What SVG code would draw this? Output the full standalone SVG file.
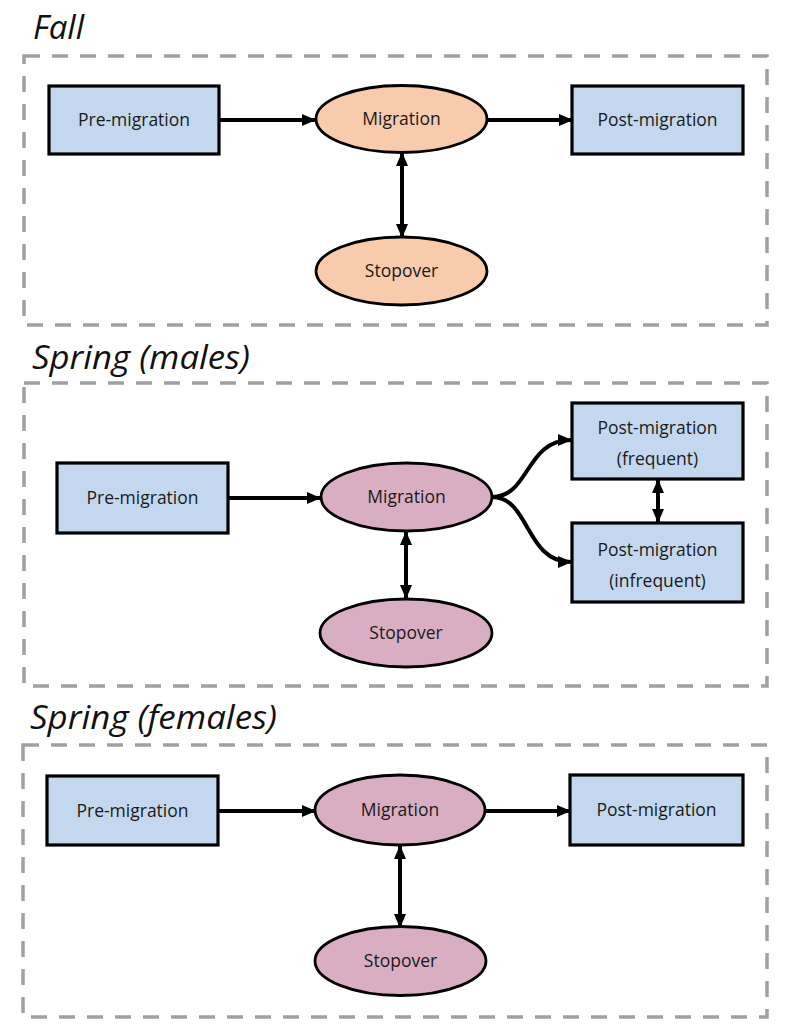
<svg xmlns="http://www.w3.org/2000/svg" width="786" height="1034" viewBox="0 0 786 1034">
<style>
.frame{fill:none;stroke:#A0A0A0;stroke-width:3.5;stroke-dasharray:16 12}
.title{font-family:"Open Sans","Liberation Sans",sans-serif;font-style:italic;font-size:32px;fill:#111}
.box{fill:#C3D8EE;stroke:#000;stroke-width:3.2}
.orange{fill:#F8CBAD;stroke:#000;stroke-width:2.8}
.pink{fill:#D9AEC3;stroke:#000;stroke-width:2.8}
.lbl{font-family:"Open Sans","Liberation Sans",sans-serif;font-size:17.5px;fill:#1a1a1a;text-anchor:middle}
.con{fill:none;stroke:#000;stroke-width:4}
</style>
<defs>
<marker id="ah" markerUnits="userSpaceOnUse" markerWidth="14" markerHeight="14" refX="13" refY="7" orient="auto">
<path d="M0,1 L14,7 L0,13 Z" fill="#000"/>
</marker>
<marker id="as" markerUnits="userSpaceOnUse" markerWidth="14" markerHeight="14" refX="1" refY="7" orient="auto">
<path d="M14,1 L0,7 L14,13 Z" fill="#000"/>
</marker>
</defs>

<g id="fall-frame">
<text class="title" x="33" y="39" textLength="51" lengthAdjust="spacingAndGlyphs">Fall</text>
<rect class="frame" x="24" y="56" width="743" height="269"/>
</g>
<g id="males-frame">
<text class="title" x="32" y="369" textLength="218" lengthAdjust="spacingAndGlyphs">Spring (males)</text>
<rect class="frame" x="24" y="383" width="743" height="303"/>
</g>
<g id="females-frame">
<text class="title" x="30" y="729" textLength="247" lengthAdjust="spacingAndGlyphs">Spring (females)</text>
<rect class="frame" x="23" y="745" width="744" height="272"/>
</g>

<g id="connectors">
<line class="con" x1="220" y1="120" x2="315" y2="120" marker-end="url(#ah)"/>
<line class="con" x1="487" y1="120" x2="572" y2="120" marker-end="url(#ah)"/>
<line class="con" x1="402" y1="153" x2="402" y2="237" marker-start="url(#as)" marker-end="url(#ah)"/>

<line class="con" x1="229" y1="498" x2="320" y2="498" marker-end="url(#ah)"/>
<path class="con" d="M492,497 C530,497 525,440 571,440" marker-end="url(#ah)"/>
<path class="con" d="M492,497 C530,497 525,562 571,562" marker-end="url(#ah)"/>
<line class="con" x1="658" y1="480" x2="658" y2="522" marker-start="url(#as)" marker-end="url(#ah)"/>
<line class="con" x1="406" y1="532" x2="406" y2="598" marker-start="url(#as)" marker-end="url(#ah)"/>

<line class="con" x1="219" y1="811" x2="315" y2="811" marker-end="url(#ah)"/>
<line class="con" x1="485" y1="811" x2="570" y2="811" marker-end="url(#ah)"/>
<line class="con" x1="400" y1="846" x2="400" y2="927" marker-start="url(#as)" marker-end="url(#ah)"/>
</g>

<g id="fall-pre">
<rect class="box" x="49" y="86" width="170" height="68"/>
<text class="lbl" x="134" y="126">Pre-migration</text>
</g>
<g id="fall-migration">
<ellipse class="orange" cx="401.5" cy="119" rx="85.5" ry="33.5"/>
<text class="lbl" x="401.5" y="125">Migration</text>
</g>
<g id="fall-post">
<rect class="box" x="572" y="86" width="171" height="68"/>
<text class="lbl" x="657.5" y="126">Post-migration</text>
</g>
<g id="fall-stopover">
<ellipse class="orange" cx="401.5" cy="271" rx="85.5" ry="34"/>
<text class="lbl" x="401.5" y="277">Stopover</text>
</g>

<g id="males-pre">
<rect class="box" x="57" y="463" width="171" height="70"/>
<text class="lbl" x="142.5" y="504">Pre-migration</text>
</g>
<g id="males-migration">
<ellipse class="pink" cx="406.5" cy="497" rx="85.5" ry="34"/>
<text class="lbl" x="406.5" y="503">Migration</text>
</g>
<g id="males-post-frequent">
<rect class="box" x="572" y="403" width="171" height="76"/>
<text class="lbl" x="657.5" y="434">Post-migration</text>
<text class="lbl" x="657.5" y="465">(frequent)</text>
</g>
<g id="males-post-infrequent">
<rect class="box" x="572" y="523" width="171" height="79"/>
<text class="lbl" x="657.5" y="556">Post-migration</text>
<text class="lbl" x="657.5" y="587">(infrequent)</text>
</g>
<g id="males-stopover">
<ellipse class="pink" cx="406" cy="633" rx="86" ry="34"/>
<text class="lbl" x="406" y="639">Stopover</text>
</g>

<g id="females-pre">
<rect class="box" x="47" y="776" width="171" height="69"/>
<text class="lbl" x="132.5" y="817">Pre-migration</text>
</g>
<g id="females-migration">
<ellipse class="pink" cx="400" cy="810" rx="85" ry="35"/>
<text class="lbl" x="400" y="816">Migration</text>
</g>
<g id="females-post">
<rect class="box" x="570" y="775" width="173" height="70"/>
<text class="lbl" x="656.5" y="816">Post-migration</text>
</g>
<g id="females-stopover">
<ellipse class="pink" cx="400.5" cy="961" rx="85.5" ry="34.5"/>
<text class="lbl" x="400.5" y="967">Stopover</text>
</g>
</svg>
